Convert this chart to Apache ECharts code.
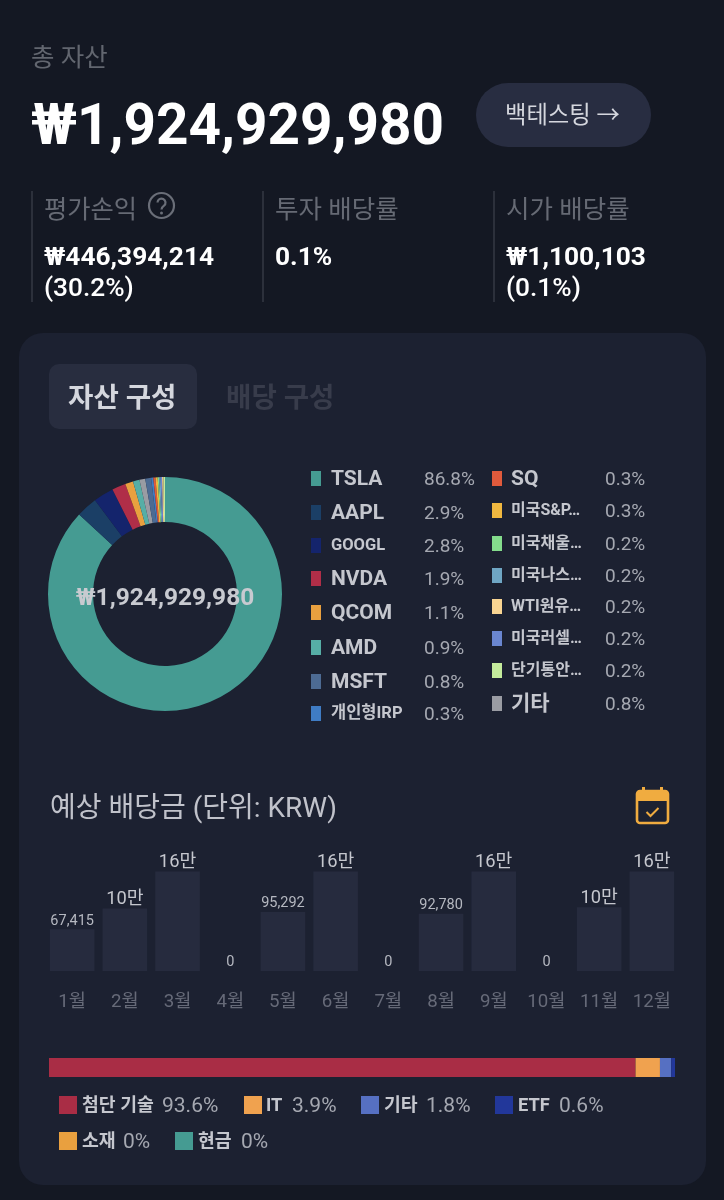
<!DOCTYPE html>
<html lang="ko"><head><meta charset="utf-8">
<script src="https://cdn.jsdelivr.net/npm/echarts@6/dist/echarts.min.js"></script>
<style>
html,body{margin:0;padding:0;background:#141823;}
body{width:724px;height:1200px;position:relative;overflow:hidden;font-family:Roboto,"Noto Sans CJK KR",sans-serif;}
.t{position:absolute;white-space:nowrap;line-height:1;transform:translateY(-50%);z-index:3;}
.b{position:absolute;z-index:0;}
#chart{position:absolute;left:0;top:0;width:724px;height:1200px;z-index:2;}
.sw{position:absolute;z-index:3;}
</style></head><body>
<div class="b" style="left:19px;top:333px;width:687px;height:852px;border-radius:24px;background:#1c2131"></div>
<div class="b" style="left:476px;top:83px;width:175px;height:64px;border-radius:32px;background:#282d41"></div>
<div class="b" style="left:49px;top:364px;width:148px;height:65px;border-radius:10px;background:#282d3f"></div>
<div class="b" style="left:31px;top:191px;width:2px;height:111px;background:#2c303b"></div>
<div class="b" style="left:262px;top:191px;width:2px;height:111px;background:#2c303b"></div>
<div class="b" style="left:493px;top:191px;width:2px;height:111px;background:#2c303b"></div>
<svg class="sw" style="left:147px;top:191px" width="29" height="29" viewBox="0 0 29 29" fill="none"><circle cx="14.5" cy="14.5" r="12.5" stroke="#6a6e78" stroke-width="2.2"/><path d="M10.5 11.5a4 4 0 1 1 6.5 3.2c-1.6 1.2-2.5 2-2.5 3.8" stroke="#6a6e78" stroke-width="2.2"/><circle cx="14.5" cy="22" r="1.5" fill="#6a6e78"/></svg>
<svg class="sw" style="left:635px;top:786px" width="35" height="39" viewBox="0 0 35 39" fill="none"><rect x="2" y="5" width="31" height="32" rx="3" stroke="#f0ac40" stroke-width="2.6"/><path d="M2 8a3 3 0 0 1 3-3h25a3 3 0 0 1 3 3v7H2z" fill="#f0ac40"/><rect x="7" y="1" width="3" height="7" fill="#f0ac40"/><rect x="25" y="1" width="3" height="7" fill="#f0ac40"/><path d="M11.5 26l4 4 8-8" stroke="#f0ac40" stroke-width="2"/></svg>
<div id="chart"></div>
<script>
const holdingNames = ["TSLA","AAPL","GOOGL","NVDA","QCOM","AMD","MSFT","개인형IRP","SQ","미국S&P…","미국채울…","미국나스…","WTI원유…","미국러셀…","단기통안…","기타"];
const holdingValues = [86.8,2.9,2.8,1.9,1.1,0.9,0.8,0.3,0.3,0.3,0.2,0.2,0.2,0.2,0.2,0.8];
const holdingColors = ["#459b92","#1b3f66","#14246c","#b02e48","#e9a03f","#56aea6","#4d6b93","#3f7cc4","#e05a3c","#f0b840","#84dc8c","#6fa6c4","#f8d492","#6a86d0","#c4eb9c","#9a9ca3"];
const pieOrder = ["TSLA","AAPL","GOOGL","NVDA","QCOM","AMD","기타","MSFT","개인형IRP","SQ","미국S&P…","미국채울…","미국나스…","미국러셀…","WTI원유…","단기통안…"];
const totalLabel = "₩1,924,929,980";
const months = ["1월","2월","3월","4월","5월","6월","7월","8월","9월","10월","11월","12월"];
const dividends = [67415,101000,161000,0,95292,161000,0,92780,161000,0,103000,161000];
const sectorNames = ["첨단 기술","IT","기타","ETF","소재","현금"];
const sectorValues = [93.6,3.9,1.8,0.6,0,0];
const sectorColors = ["#a92d45","#f0a24f","#5670c2","#22379a","#e9a03f","#459b92"];

function text(s,x,y,size,color,weight){
  const d=document.createElement('div');d.className='t';d.textContent=s;
  d.style.cssText=`left:${x}px;top:${y}px;font-size:${size}px;color:${color};font-weight:${weight||400}`;
  document.body.appendChild(d);return d;
}
function swatch(x,y,w,h,c){
  const d=document.createElement('div');d.className='sw';
  d.style.cssText=`left:${x}px;top:${y-h/2}px;width:${w}px;height:${h}px;background:${c}`;
  document.body.appendChild(d);
}
text("총 자산",31,57.5,25.5,"#62666f");
text(totalLabel,31,125,56.7,"#ffffff",700);
text("백테스팅 →",505,115.5,23.3,"#d5d7de");
text("평가손익",44,210,25.3,"#666a74");
text("투자 배당률",275,210,25.5,"#666a74");
text("시가 배당률",506,210,25.5,"#666a74");
text("₩446,394,214",44,256,26.3,"#ffffff",700);
text("(30.2%)",44,287,26.3,"#ffffff",500);
text("0.1%",275,256,26.3,"#ffffff",700);
text("₩1,100,103",506,256,26.3,"#ffffff",700);
text("(0.1%)",506,287,26.3,"#ffffff",500);
text("자산 구성",68,397.5,27.6,"#d5d7de",700);
text("배당 구성",226,397.5,27.6,"#383c4b",700);
text("예상 배당금 (단위: KRW)",50,807.5,28,"#c0c2ca");

const rowY=[478,512,545,578,612,647,681,713,478,510,543,575,606,638,670,703];
const nameSize=[21,21,16.5,21,21,21,21,16.5,21,16,16,16,16,16,16,21];
holdingNames.forEach((n,i)=>{
  const right=i>=8;
  swatch(right?492:311,rowY[i],10,15,holdingColors[i]);
  text(n,right?511:331,rowY[i],nameSize[i],"#c5c7ce",700);
  text(holdingValues[i].toFixed(1)+"%",right?605:424,rowY[i],19,"#a5a8b1");
});
const legendPos=[[59,1105,82],[244,1105,266],[361,1105,384],[495,1105,518],[59,1141,82],[175,1141,198]];
const sectorPctX=[162,292,426,559,123,241];
sectorNames.forEach((n,i)=>{
  const p=legendPos[i];
  swatch(p[0],p[1],18,18,sectorColors[i]);
  text(n,p[2],p[1],18.3,"#c5c7ce",700);
  text(sectorValues[i]+"%",sectorPctX[i],p[1],21,"#a5a8b1");
});

const fmt=v=>v>=100000?Math.round(v/10000)+"만":v.toLocaleString("en-US");
const chart=echarts.init(document.getElementById('chart'),null,{renderer:'canvas',width:724,height:1200});
chart.setOption({
  animation:false,
  backgroundColor:'transparent',
  textStyle:{fontFamily:'Roboto,"Noto Sans CJK KR",sans-serif'},
  grid:[
    {left:45.8,width:632.4,top:871.5,height:99.5},
    {left:49,width:626,top:1058,height:19}
  ],
  xAxis:[
    {gridIndex:0,type:'category',data:months,axisLine:{show:false},axisTick:{show:false},
     axisLabel:{color:'#666a78',fontSize:18.7,margin:22,interval:0}},
    {gridIndex:1,type:'value',min:0,max:99.9,show:false}
  ],
  yAxis:[
    {gridIndex:0,type:'value',min:0,max:161000,show:false},
    {gridIndex:1,type:'category',data:['섹터'],show:false}
  ],
  series:[
    {type:'pie',center:[165,594],radius:[72,117],startAngle:90,clockwise:true,
     avoidLabelOverlap:false,silent:true,
     label:{show:true,position:'center',offset:[0,5],formatter:()=>totalLabel,fontSize:24.5,fontWeight:700,color:'#c8cad0'},
     labelLine:{show:false},
     data:pieOrder.map(n=>{const i=holdingNames.indexOf(n);
       return {name:n,value:holdingValues[i],itemStyle:{color:holdingColors[i]}};})},
    {type:'bar',xAxisIndex:0,yAxisIndex:0,data:dividends,barWidth:44.6,
     itemStyle:{color:'#262b3e'},
     label:{show:true,position:'top',distance:0,
       formatter:p=>p.value>=100000?'{big|'+fmt(p.value)+'}':'{small|'+fmt(p.value)+'}',
       rich:{big:{fontSize:18.3,color:'#c5c7ce'},small:{fontSize:14.5,color:'#b5b8c0',padding:[0,0,1,0]}}}},
    ...sectorNames.map((n,i)=>({type:'bar',name:n,stack:'sector',xAxisIndex:1,yAxisIndex:1,
       barWidth:19,data:[sectorValues[i]],itemStyle:{color:sectorColors[i]}}))
  ]
});
</script>
</body></html>
